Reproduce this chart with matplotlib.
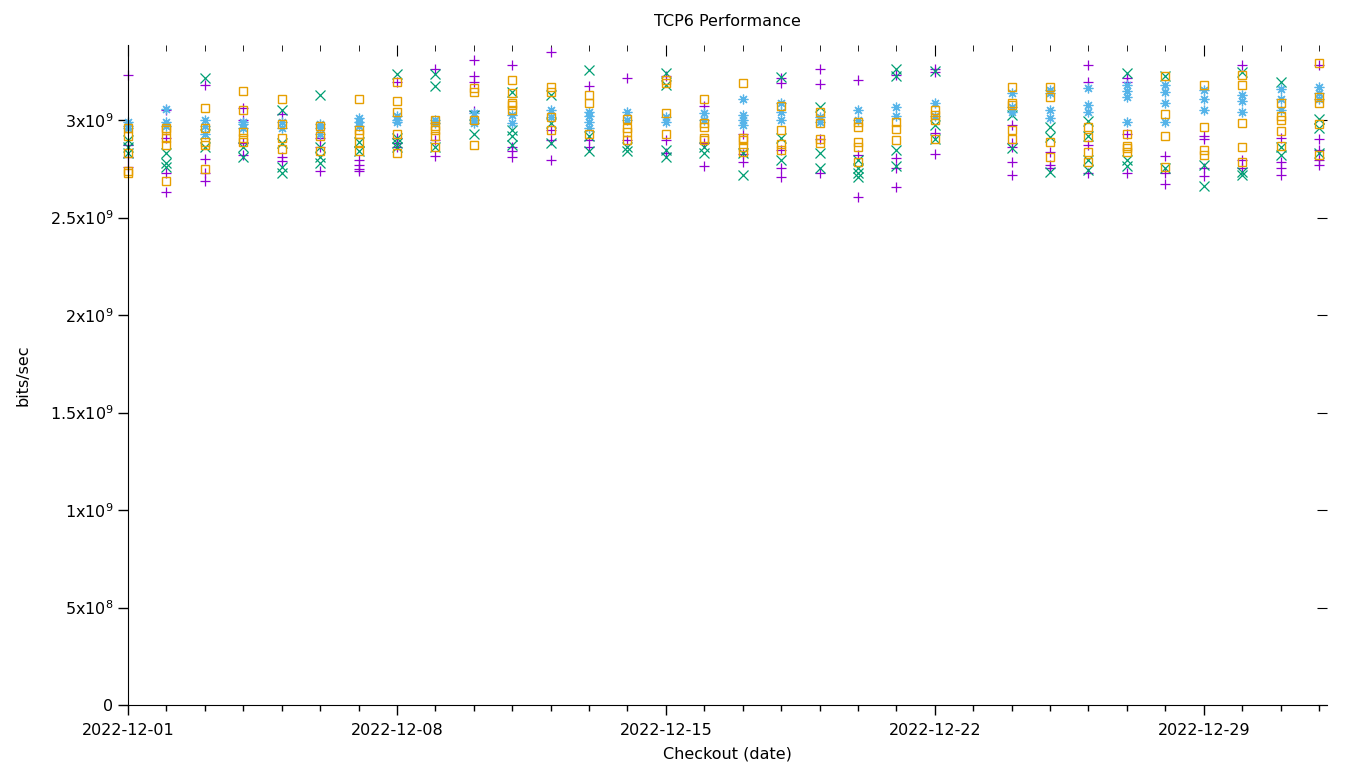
import numpy as np
import matplotlib
matplotlib.use('Agg')
import matplotlib.pyplot as plt
import matplotlib.dates as mdates
from matplotlib.ticker import FixedLocator, FuncFormatter

# Fechas de checkout (falta el 2022-12-23)
days = ['2022-12-01', '2022-12-02', '2022-12-03', '2022-12-04', '2022-12-05', '2022-12-06',
        '2022-12-07', '2022-12-08', '2022-12-09', '2022-12-10', '2022-12-11', '2022-12-12',
        '2022-12-13', '2022-12-14', '2022-12-15', '2022-12-16', '2022-12-17', '2022-12-18',
        '2022-12-19', '2022-12-20', '2022-12-21', '2022-12-22', '2022-12-24', '2022-12-25',
        '2022-12-26', '2022-12-27', '2022-12-28', '2022-12-29', '2022-12-30', '2022-12-31',
        '2023-01-01']
major_days = ['2022-12-01', '2022-12-08', '2022-12-15', '2022-12-22', '2022-12-29']

# Valores en unidades de 1e9 bits/sec, una lista por dia
s_plus = [
    [3.23, 2.87, 2.81, 2.76], [3.05, 2.91, 2.73, 2.63], [3.18, 2.80, 2.73, 2.69],
    [3.06, 3.00, 2.88, 2.82], [3.03, 2.81, 2.79], [2.91, 2.86, 2.74],
    [2.795, 2.77, 2.75, 2.74], [3.195, 2.91, 2.88, 2.86], [3.26, 2.90, 2.815],
    [3.31, 3.225, 3.195, 3.045], [3.28, 2.86, 2.84, 2.81], [3.35, 2.95, 2.90, 2.795],
    [3.175, 2.90, 2.86], [3.215, 2.90], [3.225, 2.90, 2.83],
    [3.07, 2.88, 2.765], [2.93, 2.825, 2.785], [3.215, 3.19, 2.845, 2.755, 2.71],
    [3.26, 3.185, 2.905, 2.73], [3.205, 2.82, 2.605], [3.23, 2.805, 2.755, 2.655],
    [3.26, 3.245, 2.935, 2.825], [2.975, 2.88, 2.86, 2.785, 2.72], [2.835, 2.77, 2.755],
    [3.28, 3.195, 2.87, 2.73], [3.215, 3.195, 2.93, 2.73], [2.815, 2.73, 2.67],
    [2.92, 2.905, 2.755, 2.715], [3.28, 2.795, 2.755], [2.91, 2.785, 2.755, 2.72],
    [3.28, 2.905, 2.845, 2.795, 2.77],
]
s_cross = [
    [2.90, 2.86, 2.83], [2.83, 2.78, 2.76], [3.215, 2.93, 2.86],
    [2.86, 2.81], [3.05, 2.88, 2.76, 2.73], [3.13, 2.86, 2.81, 2.78],
    [2.89, 2.84], [3.235, 2.91, 2.88, 2.86], [3.235, 3.175, 2.86],
    [3.025, 2.93], [3.145, 2.95, 2.92, 2.87], [3.13, 2.985, 2.88],
    [3.255, 2.92, 2.84], [2.86, 2.84], [3.24, 3.18, 2.845, 2.81],
    [2.86, 2.83], [2.83, 2.72], [3.22, 2.91, 2.795],
    [3.065, 2.83, 2.755], [2.795, 2.755, 2.73, 2.71], [3.26, 3.225, 2.845, 2.765],
    [3.25, 2.975, 2.905], [3.025, 2.855], [2.965, 2.915, 2.735],
    [2.995, 2.92, 2.795, 2.745], [3.24, 2.795, 2.765], [3.225, 2.755],
    [2.77, 2.66], [3.245, 2.735, 2.72], [3.195, 2.86, 2.82],
    [3.005, 2.96, 2.83],
]
s_star = [
    [2.99, 2.97, 2.96], [3.056, 2.99, 2.97], [3.0, 2.97, 2.93],
    [2.99, 2.98, 2.96], [2.99, 2.96], [2.98, 2.96, 2.93],
    [3.01, 2.99, 2.97], [3.02, 3.0, 2.99], [3.0, 2.985],
    [3.035, 3.0, 2.985], [3.025, 2.985], [3.05, 3.015],
    [3.04, 3.02, 2.99, 2.96], [3.04, 3.0], [3.015, 2.99],
    [3.035, 3.0], [3.11, 3.025, 3.0, 2.975], [3.085, 3.04, 3.0],
    [3.015, 2.99], [3.05, 3.0], [3.065, 3.02],
    [3.085, 3.02], [3.14, 3.065, 3.04], [3.155, 3.14, 3.05, 3.01],
    [3.165, 3.075, 3.04], [3.18, 3.15, 3.12, 2.99], [3.18, 3.145, 3.085, 2.99],
    [3.155, 3.11, 3.05], [3.13, 3.10, 3.04], [3.16, 3.11, 3.05],
    [3.17, 3.14, 3.11],
]
s_square = [
    [2.96, 2.92, 2.83, 2.74, 2.73], [2.96, 2.95, 2.91, 2.87, 2.69], [3.06, 2.96, 2.89, 2.87, 2.75],
    [3.15, 3.05, 2.94, 2.91, 2.89], [3.11, 2.98, 2.91, 2.85], [2.97, 2.92, 2.84],
    [3.11, 2.95, 2.93, 2.89, 2.84], [3.195, 3.10, 3.04, 2.93, 2.83], [3.0, 2.97, 2.95, 2.92, 2.86],
    [3.165, 3.145, 3.0, 2.87], [3.205, 3.14, 3.09, 3.075, 3.05], [3.17, 3.145, 3.015, 2.95],
    [3.13, 3.09, 2.93], [3.005, 2.96, 2.94, 2.90], [3.205, 3.19, 3.035, 2.93],
    [3.11, 2.985, 2.965, 2.91, 2.90], [3.19, 2.91, 2.90, 2.86, 2.835], [3.07, 2.95, 2.875, 2.845],
    [3.04, 2.985, 2.905, 2.88], [2.99, 2.965, 2.89, 2.86, 2.785], [2.99, 2.955, 2.90],
    [3.05, 3.025, 3.0, 2.905], [3.17, 3.09, 3.075, 2.95, 2.905], [3.17, 3.12, 2.89, 2.81],
    [2.965, 2.915, 2.835, 2.785], [2.93, 2.865, 2.855, 2.835], [3.225, 3.03, 2.92, 2.76],
    [3.18, 2.965, 2.845, 2.82], [3.23, 3.18, 2.985, 2.86, 2.785], [3.085, 3.02, 3.0, 2.945, 2.865],
    [3.295, 3.12, 3.09, 2.98, 2.82],
]

series = [
    (s_plus, '+', '#9400d3'),
    (s_cross, 'x', '#009e73'),
    (s_star, (8, 2, 0), '#56b4e9'),
    (s_square, 's', '#e69f00'),
]

plt.rcParams['font.size'] = 11.5
fig = plt.figure(figsize=(13.6, 7.68), dpi=100)
ax = fig.add_axes([128/1360, 1-705/768, (1327-128)/1360, (705-45)/768])

fechas = np.array(days, dtype='datetime64[D]')
for datos, marca, color in series:
    xs, ys = [], []
    for f, vals in zip(fechas, datos):
        for v in vals:
            xs.append(f)
            ys.append(v * 1e9)
    if marca == 's':
        ax.plot(xs, ys, ls='none', marker=marca, ms=5.5, mfc='none', mec=color, mew=1.0,
                clip_on=False)
    else:
        ax.plot(xs, ys, ls='none', marker=marca, ms=7, color=color, mew=0.9, clip_on=False)

ax.set_xlim(np.datetime64('2022-12-01T00:00'), np.datetime64('2023-01-01T05:00'))
ax.set_ylim(0, 3.385e9)

xmaj = mdates.date2num(np.array(major_days, dtype='datetime64[D]'))
ax.xaxis.set_major_locator(FixedLocator(xmaj))
ax.xaxis.set_minor_locator(mdates.DayLocator())
ax.xaxis.set_major_formatter(mdates.DateFormatter('%Y-%m-%d'))

yt = np.arange(0, 3.01e9, 5e8)
def fmt_y(v, pos):
    if v == 0:
        return '0'
    e = int(np.floor(np.log10(v)))
    m = v / 10**e
    ms = ('%.1f' % m).rstrip('0').rstrip('.')
    return r'$\mathregular{%sx10^{%d}}$' % (ms, e)
ax.yaxis.set_major_locator(FixedLocator(yt))
ax.yaxis.set_major_formatter(FuncFormatter(fmt_y))

for s in ['top', 'right']:
    ax.spines[s].set_visible(False)
ax.tick_params(which='major', direction='out', length=7, width=1)
ax.tick_params(which='minor', direction='out', length=4, width=1)
ax.tick_params(axis='x', pad=6)

# ticks espejados arriba y a la derecha, hacia adentro
top = ax.secondary_xaxis('top')
top.xaxis.set_major_locator(FixedLocator(xmaj))
top.xaxis.set_minor_locator(mdates.DayLocator())
top.tick_params(which='major', direction='in', length=8, labeltop=False)
top.tick_params(which='minor', direction='in', length=4, labeltop=False)
top.spines['top'].set_visible(False)
der = ax.secondary_yaxis('right')
der.yaxis.set_major_locator(FixedLocator(yt))
der.tick_params(direction='in', length=7, labelright=False)
der.spines['right'].set_visible(False)

ax.set_title('TCP6 Performance', fontsize=11.5, pad=14)
ax.set_xlabel('Checkout (date)', labelpad=6)
ax.set_ylabel('bits/sec', labelpad=14)

fig.savefig('out.png', dpi=100)
